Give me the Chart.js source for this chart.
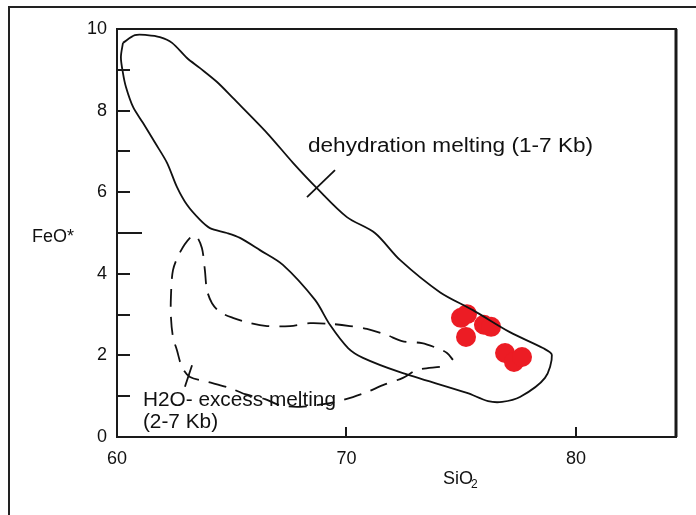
<!DOCTYPE html>
<html>
<head>
<meta charset="utf-8">
<script src="https://cdn.jsdelivr.net/npm/chart.js@4/dist/chart.umd.min.js"></script>
<style>
  html, body { margin: 0; padding: 0; background: #fff; overflow: hidden; }
  #frame { position: absolute; left: 8px; top: 6px; width: 800px; height: 600px; border-left: 2px solid #222; border-top: 2px solid #222; }
  #c { position: absolute; left: 0; top: 0; }
</style>
</head>
<body>
<div id="frame"></div>
<canvas id="c" width="696" height="515"></canvas>
<script>
// dehydration melting field (1-7 Kb), solid outline
const dehydrationSiO2 = [60.26, 60.78, 61.31, 61.87, 62.40, 63.05, 63.62, 64.36, 65.05, 66.54,
  67.67, 68.71, 70.02, 71.24, 72.33, 74.07, 75.51, 77.12, 78.56, 78.95,
  78.65, 77.56, 76.78, 76.17, 75.25, 72.33, 70.72, 70.07, 69.28, 68.63,
  67.23, 66.23, 65.36, 64.79, 64.05, 63.62, 63.05, 62.61, 62.18, 61.66,
  61.13, 60.70, 60.39, 60.26, 60.17, 60.26];
const dehydrationFeO = [9.66, 9.85, 9.85, 9.80, 9.66, 9.29, 9.04, 8.70, 8.31, 7.45,
  6.72, 6.10, 5.39, 5.00, 4.34, 3.55, 3.11, 2.57, 2.18, 2.01,
  1.45, 0.98, 0.86, 0.88, 1.08, 1.59, 1.94, 2.18, 2.75, 3.36,
  4.22, 4.58, 4.88, 5.00, 5.12, 5.32, 5.69, 6.13, 6.72, 7.21,
  7.70, 8.09, 8.58, 8.92, 9.31, 9.66];

// H2O-excess melting field (2-7 Kb), dashed outline
const excessSiO2 = [74.07, 73.07, 72.46, 71.59, 70.89, 70.28, 69.28, 67.97, 67.10, 66.45,
  65.58, 64.92, 63.97, 63.18, 62.83, 62.61, 62.44, 62.35, 62.35, 62.44,
  62.75, 63.18, 63.44, 63.70, 63.83, 63.92, 64.14, 64.49, 65.05, 65.80,
  66.54, 67.54, 68.41, 69.37, 70.15, 70.89, 71.76, 72.42, 73.29, 73.94,
  74.38, 74.64];
const excessFeO = [1.72, 1.64, 1.45, 1.27, 1.10, 0.98, 0.83, 0.74, 0.78, 0.93,
  1.05, 1.20, 1.35, 1.47, 1.72, 2.13, 2.45, 2.94, 3.43, 4.09,
  4.53, 4.88, 4.93, 4.63, 4.09, 3.60, 3.28, 3.06, 2.92, 2.79,
  2.72, 2.72, 2.79, 2.77, 2.72, 2.65, 2.50, 2.35, 2.30, 2.18,
  2.06, 1.89];

// short leader marks pointing at each field label
const dehydrationMarkSiO2 = [68.28, 69.50];
const dehydrationMarkFeO = [5.88, 6.54];
const excessMarkSiO2 = [63.27, 62.96];
const excessMarkFeO = [1.76, 1.23];

// samples
const sampleSiO2 = [74.99, 75.25, 75.99, 76.30, 75.21, 76.91, 77.30, 77.65];
const sampleFeO = [2.92, 3.01, 2.75, 2.70, 2.45, 2.06, 1.84, 1.96];

const xTicks = [60, 70, 80];
const yTicks = [0, 1, 2, 3, 4, 5, 6, 7, 8, 9, 10];
const xRange = [60, 84.36];
const yRange = [0, 10];

const FONT = '"Liberation Sans", Arial, sans-serif';
const INK = "#111";

function points(xs, ys) {
  return xs.map((x, i) => ({ x, y: ys[i] }));
}

function lineSet(xs, ys, dash) {
  return {
    data: points(xs, ys),
    showLine: true,
    borderColor: INK,
    borderWidth: 1.8,
    borderDash: dash || [],
    pointRadius: 0,
    tension: 0.3,
    fill: false,
    order: 0,
  };
}

function drawLabel(ctx, text, px, py, size, sx) {
  ctx.save();
  ctx.translate(px, py);
  ctx.scale(sx, 1);
  ctx.font = `${size}px ${FONT}`;
  ctx.fillText(text, 0, 0);
  ctx.restore();
}

const overlay = {
  id: "overlay",
  afterDraw(chart) {
    const { ctx, chartArea: a, scales: { x, y } } = chart;
    ctx.save();
    ctx.strokeStyle = "#1a1a1a";
    ctx.lineWidth = 2;
    ctx.strokeRect(a.left, a.top, a.right - a.left, a.bottom - a.top);
    ctx.lineWidth = 3;
    ctx.beginPath();
    ctx.moveTo(a.right, a.top);
    ctx.lineTo(a.right, a.bottom);
    ctx.stroke();

    // inward tick marks
    ctx.lineWidth = 2;
    ctx.beginPath();
    y.ticks.forEach((t) => {
      const py = Math.round(y.getPixelForValue(t.value));
      const len = t.value === 5 ? 25 : 13;
      ctx.moveTo(a.left, py);
      ctx.lineTo(a.left + len, py);
    });
    x.ticks.forEach((t) => {
      if (t.value === x.min) return;
      const px = Math.round(x.getPixelForValue(t.value));
      ctx.moveTo(px, a.bottom);
      ctx.lineTo(px, a.bottom - 10);
    });
    ctx.stroke();

    // field labels and axis titles
    ctx.fillStyle = INK;
    ctx.textBaseline = "alphabetic";
    ctx.textAlign = "left";
    drawLabel(ctx, "dehydration melting (1-7 Kb)", x.getPixelForValue(68.32), y.getPixelForValue(6.99), 20, 1.13);
    drawLabel(ctx, "H2O- excess melting", x.getPixelForValue(61.13), y.getPixelForValue(0.76), 20, 1.04);
    drawLabel(ctx, "(2-7 Kb)", x.getPixelForValue(61.13), y.getPixelForValue(0.22), 20, 1.04);
    drawLabel(ctx, "FeO*", a.left - 85, 242, 18, 1);
    ctx.font = `18px ${FONT}`;
    ctx.fillText("SiO", 443, 484);
    const w = ctx.measureText("SiO").width;
    ctx.font = `12px ${FONT}`;
    ctx.fillText("2", 443 + w - 2, 488);
    ctx.restore();
  },
};

new Chart(document.getElementById("c"), {
  type: "scatter",
  data: {
    datasets: [
      lineSet(dehydrationSiO2, dehydrationFeO),
      lineSet(excessSiO2, excessFeO, [18, 10]),
      { ...lineSet(dehydrationMarkSiO2, dehydrationMarkFeO), tension: 0 },
      { ...lineSet(excessMarkSiO2, excessMarkFeO), tension: 0 },
      {
        data: points(sampleSiO2, sampleFeO),
        pointRadius: 10,
        pointBackgroundColor: "#ec1c24",
        pointBorderWidth: 0,
        showLine: false,
        order: 1,
      },
    ],
  },
  options: {
    responsive: false,
    animation: false,
    layout: { padding: { top: 29, right: 20, left: 0, bottom: 0 } },
    plugins: { legend: { display: false }, tooltip: { enabled: false } },
    scales: {
      x: {
        type: "linear",
        min: xRange[0],
        max: xRange[1],
        afterBuildTicks: (scale) => { scale.ticks = xTicks.map((value) => ({ value })); },
        afterFit: (scale) => { scale.height = 78; },
        ticks: { color: INK, font: { family: FONT, size: 18 }, padding: 11, autoSkip: false, maxRotation: 0 },
        grid: { display: false, drawTicks: false },
        border: { display: false },
      },
      y: {
        type: "linear",
        min: yRange[0],
        max: yRange[1],
        afterBuildTicks: (scale) => { scale.ticks = yTicks.map((value) => ({ value })); },
        afterFit: (scale) => { scale.width = 117; },
        ticks: {
          color: INK,
          font: { family: FONT, size: 18 },
          padding: 10,
          autoSkip: false,
          callback: (value) => (value % 2 === 0 ? String(value) : ""),
        },
        grid: { display: false, drawTicks: false },
        border: { display: false },
      },
    },
  },
  plugins: [overlay],
});
</script>
</body>
</html>
